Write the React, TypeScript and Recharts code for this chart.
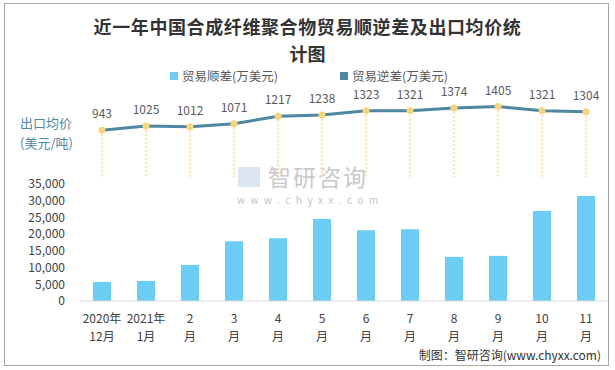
import React from "react";
import {
    ComposedChart,
    BarChart,
    Bar,
    Line,
    XAxis,
    YAxis,
    LabelList,
} from "recharts";

// x categories, "\n" splits the two tick lines
const categories = [
    "2020年\n12月", "2021年\n1月", "2\n月", "3\n月", "4\n月", "5\n月",
    "6\n月", "7\n月", "8\n月", "9\n月", "10\n月", "11\n月",
];
// 贸易顺差(万美元)
const tradeSurplus = [5700, 6000, 10800, 17900, 18800, 24500, 21200, 21500, 13200, 13500, 26900, 31400];
// 出口均价(美元/吨)
const exportPrice = [943, 1025, 1012, 1071, 1217, 1238, 1323, 1321, 1374, 1405, 1321, 1304];
const surplusTicks = [0, 5000, 10000, 15000, 20000, 25000, 30000, 35000];

const FONT = '"Microsoft YaHei", "Noto Sans CJK SC", sans-serif';
const BAR_COLOR = "#6ccdf5";
const LINE_COLOR = "#4f87a2";
const DOT_COLOR = "#f8d57a";

const data = categories.map((name, i) => ({
    name,
    surplus: tradeSurplus[i],
    price: exportPrice[i],
}));

// dotted yellow drop line, drawn as a thin bar
const DropLine = (props: any) => {
    const { x, y, width, height } = props;
    const cx = x + width / 2;
    return (
        <line x1={cx} x2={cx} y1={y} y2={y + height} stroke="#f6d88e" strokeWidth={1.5} strokeDasharray="2 2" />
    );
};

const CategoryTick = (props: any) => {
    const { x, y, payload } = props;
    const lines = String(payload.value).split("\n");
    return (
        <text x={x} y={y} textAnchor="middle" fill="#404040" fontSize={12} fontFamily={FONT}>
            {lines.map((l, i) => (
                <tspan key={i} x={x} dy={i === 0 ? 14 : 18}>{l}</tspan>
            ))}
        </text>
    );
};

const titleStyle: React.CSSProperties = {
    position: "absolute", left: 0, width: 615, textAlign: "center",
    fontSize: 18, fontWeight: "bold", color: "#333", lineHeight: "20px",
};

export default function App() {
    return (
        <div style={{ position: "absolute", left: 0, top: 0, width: 615, height: 370, background: "#fff", fontFamily: FONT }}>
            {/* frame */}
            <div style={{ position: "absolute", left: 4, top: 3, width: 603, height: 361, border: "1px solid #a6a6a6" }} />

            {/* title */}
            <div style={{ ...titleStyle, top: 16, letterSpacing: 0.6 }}>近一年中国合成纤维聚合物贸易顺逆差及出口均价统</div>
            <div style={{ ...titleStyle, top: 43 }}>计图</div>

            {/* legend */}
            <div style={{ position: "absolute", left: 170, top: 66, fontSize: 12.5, color: "#595959", display: "flex", alignItems: "center" }}>
                <span style={{ width: 8, height: 8, background: BAR_COLOR, marginRight: 4 }} />
                <span>贸易顺差(万美元)</span>
                <span style={{ width: 8, height: 8, background: LINE_COLOR, marginLeft: 62, marginRight: 4 }} />
                <span>贸易逆差(万美元)</span>
            </div>

            {/* watermark */}
            <div style={{ position: "absolute", left: 268, top: 165, fontSize: 23, lineHeight: "23px", color: "#c9c9c9", letterSpacing: 2 }}>智研咨询</div>
            <div style={{ position: "absolute", left: 237, top: 195, fontSize: 10, lineHeight: "10px", color: "#c4c4c4", letterSpacing: 5.5 }}>www.chyxx.com</div>
            <div style={{ position: "absolute", left: 238, top: 167, width: 22, height: 20, background: "#dbe6f1" }} />

            {/* line unit label */}
            <div style={{ position: "absolute", left: 20, top: 113, fontSize: 13, color: "#4f86a8", lineHeight: "20px" }}>
                出口均价<br />(美元/吨)
            </div>

            <div style={{ position: "absolute", left: 0, top: 0 }}>
                <BarChart width={615} height={370} data={data} margin={{ top: 184, right: 7, left: 0, bottom: 0 }}>
                    <XAxis
                        dataKey="name"
                        height={69}
                        interval={0}
                        tickLine={false}
                        axisLine={{ stroke: "#d9d9d9" }}
                        tick={<CategoryTick />}
                    />
                    <YAxis
                        width={80}
                        domain={[0, 35000]}
                        ticks={surplusTicks}
                        interval={0}
                        tickFormatter={(v: number) => v.toLocaleString("en-US")}
                        axisLine={false}
                        tickLine={false}
                        tickMargin={9}
                        tick={{ fill: "#404040", fontSize: 12, fontFamily: FONT }}
                    />
                    <Bar dataKey="surplus" fill={BAR_COLOR} barSize={18} isAnimationActive={false} />
                </BarChart>
            </div>

            <div style={{ position: "absolute", left: 0, top: 0 }}>
                <ComposedChart width={615} height={190} data={data} margin={{ top: 95, right: 7, left: 80, bottom: 13 }}>
                    <XAxis dataKey="name" hide />
                    <YAxis type="number" domain={[30, 1630]} hide allowDataOverflow />
                    <Bar dataKey="price" barSize={2} shape={<DropLine />} isAnimationActive={false} />
                    <Line
                        dataKey="price"
                        stroke={LINE_COLOR}
                        strokeWidth={3}
                        dot={{ r: 3.5, fill: DOT_COLOR, stroke: "none" }}
                        activeDot={false}
                        isAnimationActive={false}
                    >
                        <LabelList dataKey="price" position="top" offset={12} fill="#595959" fontSize={12} fontFamily={FONT} />
                    </Line>
                </ComposedChart>
            </div>

            {/* source */}
            <div style={{ position: "absolute", right: 14, top: 346, fontSize: 12, color: "#333" }}>
                制图：智研咨询(www.chyxx.com)
            </div>
        </div>
    );
}
